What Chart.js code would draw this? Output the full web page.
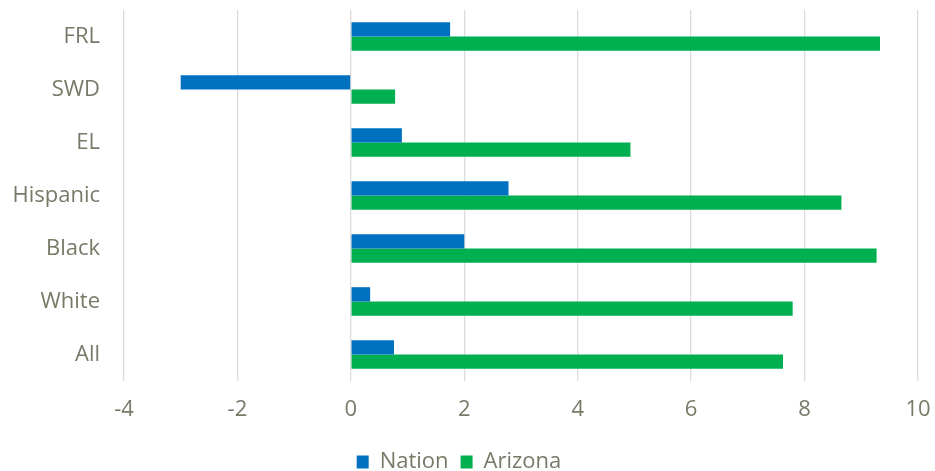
<!DOCTYPE html>
<html>
<head>
<meta charset="utf-8">
<script src="https://cdn.jsdelivr.net/npm/chart.js@4"></script>
<style>
  html, body { margin: 0; padding: 0; background: #fff; }
  #wrap { width: 935px; height: 471px; }
</style>
</head>
<body>
<div id="wrap"><canvas id="chart" width="935" height="471"></canvas></div>
<script>
// categories, top to bottom
const groups = ["FRL", "SWD", "EL", "Hispanic", "Black", "White", "All"];
const nation = [1.75, -3.0, 0.9, 2.78, 2.0, 0.34, 0.76];
const arizona = [9.33, 0.78, 4.93, 8.65, 9.27, 7.79, 7.62];
const xTicks = [-4, -2, 0, 2, 4, 6, 8, 10];

const textColor = "#797968";
const fontFamily = "'Open Sans', Lato, sans-serif";

const ctx = document.getElementById("chart").getContext("2d");
new Chart(ctx, {
    type: "bar",
    data: {
        labels: groups,
        datasets: [
            {
                label: "Nation",
                data: nation,
                backgroundColor: "#0070C0",
                categoryPercentage: 0.54,
                barPercentage: 1.0,
            },
            {
                label: "Arizona",
                data: arizona,
                backgroundColor: "#00B050",
                categoryPercentage: 0.54,
                barPercentage: 1.0,
            }
        ]
    },
    options: {
        indexAxis: "y",
        responsive: false,
        animation: false,
        layout: { padding: { top: 10, right: 17, left: 0, bottom: -12 } },
        plugins: {
            tooltip: { enabled: false },
            legend: {
                position: "bottom",
                labels: {
                    color: textColor,
                    font: { family: fontFamily, size: 22 },
                    boxWidth: 12,
                    boxHeight: 13,
                    padding: 12,
                }
            }
        },
        scales: {
            x: {
                min: -4,
                max: 10,
                afterBuildTicks: (scale) => {
                    scale.ticks = xTicks.map(v => ({ value: v }));
                },
                afterFit: (scale) => {
                    scale.height = 58;
                    scale.paddingLeft = 0;
                    scale.paddingRight = 0;
                },
                grid: { color: "#dcdcdc", lineWidth: 1.3, drawTicks: false },
                border: { display: false },
                ticks: {
                    color: textColor,
                    font: { family: fontFamily, size: 22 },
                    padding: 16,
                }
            },
            y: {
                afterFit: (scale) => {
                    scale.width = 124;
                    scale.paddingTop = 0;
                    scale.paddingBottom = 0;
                },
                grid: { display: false },
                border: { display: false },
                ticks: {
                    color: textColor,
                    font: { family: fontFamily, size: 22 },
                    padding: 16,
                }
            }
        }
    }
});
</script>
</body>
</html>
